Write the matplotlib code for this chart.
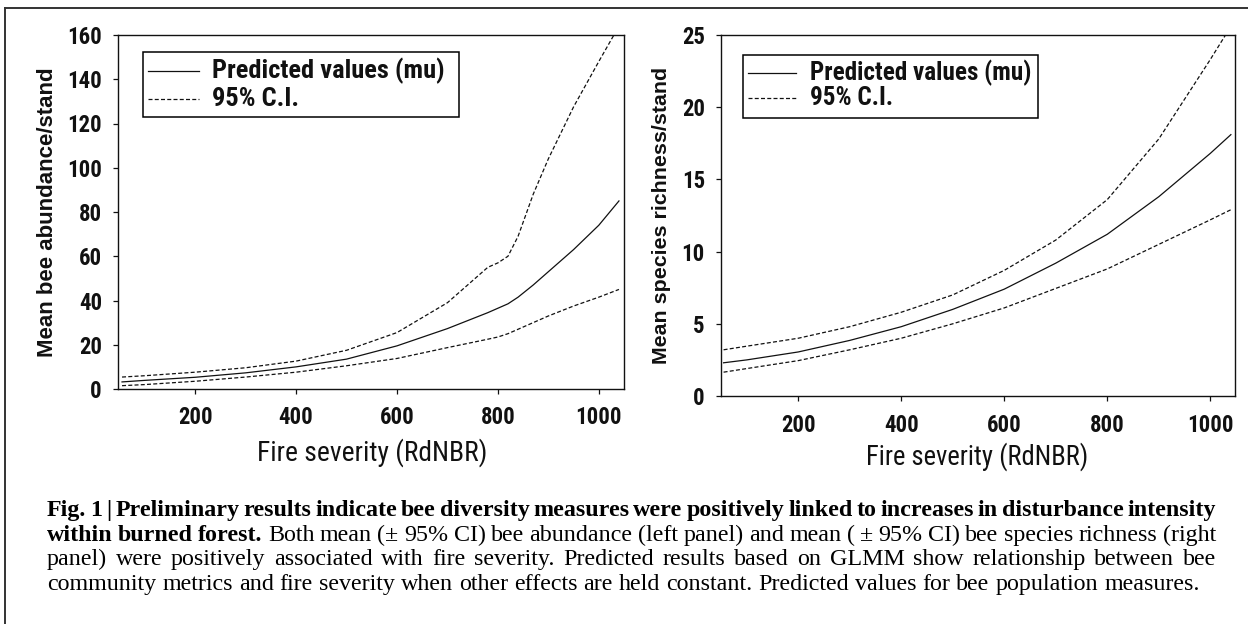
import matplotlib
matplotlib.use('Agg')
import matplotlib.pyplot as plt
from matplotlib.lines import Line2D
from matplotlib.patches import Rectangle
from matplotlib import font_manager as fm

# ---------------- data ----------------
fire_x_abund = [55, 100, 200, 300, 400, 500, 600, 700, 780, 800, 820, 840, 870, 900, 950, 1000, 1040]
abund_mu = [3.2, 3.9, 5.3, 7.3, 10.0, 13.5, 19.5, 27.3, 34.5, 36.5, 38.5, 41.5, 47, 53, 63, 74, 85]
abund_hi = [5.4, 6.0, 7.6, 9.6, 12.6, 17.5, 25.5, 39, 55, 57, 60, 69, 88, 104, 127.5, 148, 164]
abund_lo = [1.5, 2.0, 3.5, 5.4, 7.6, 10.5, 13.8, 18.7, 22.5, 23.5, 25, 27, 30, 33, 37.5, 41.5, 45]

fire_x_rich = [55, 100, 200, 300, 400, 500, 600, 700, 800, 900, 1000, 1040]
rich_mu = [2.3, 2.5, 3.05, 3.85, 4.8, 6.0, 7.4, 9.2, 11.2, 13.8, 16.8, 18.1]
rich_hi = [3.2, 3.45, 4.0, 4.8, 5.8, 7.0, 8.7, 10.8, 13.6, 17.8, 23.3, 25.6]
rich_lo = [1.65, 1.9, 2.45, 3.2, 4.0, 5.0, 6.1, 7.45, 8.8, 10.5, 12.2, 12.9]

x_ticks = [200, 400, 600, 800, 1000]
abund_yticks = [0, 20, 40, 60, 80, 100, 120, 140, 160]
rich_yticks = [0, 5, 10, 15, 20, 25]

x_label = "Fire severity (RdNBR)"
abund_ylabel = "Mean bee abundance/stand"
rich_ylabel = "Mean species richness/stand"
legend_labels = ["Predicted values (mu)", "95% C.I."]

caption_lines = [
    [("Fig. 1 | Preliminary results indicate bee diversity measures were positively linked to increases in disturbance intensity", True)],
    [("within burned forest.", True),
     ("Both mean (\u00b1 95% CI) bee abundance (left panel) and mean ( \u00b1 95% CI) bee species richness (right", False)],
    [("panel) were positively associated with fire severity. Predicted results based on GLMM show relationship between bee", False)],
    [("community metrics and fire severity when other effects are held constant. Predicted values for bee population measures.", False)],
]

# ---------------- fonts ----------------
_ttf = fm.fontManager.ttflist
_names = {f.name for f in _ttf}
NARROW_STRETCH = 'normal'
NARROW = None
for cand in ['Liberation Sans Narrow', 'Arial Narrow', 'Roboto Condensed', 'Open Sans Condensed']:
    if cand in _names:
        NARROW = [cand, 'DejaVu Sans']
        break
if NARROW is None:
    if any(f.name == 'DejaVu Sans' and f.stretch in ('condensed', 'semi-condensed') for f in _ttf):
        NARROW = ['DejaVu Sans']
        NARROW_STRETCH = 'condensed'
    else:
        NARROW = ['Liberation Sans', 'DejaVu Sans']
SANS = ['Liberation Sans', 'DejaVu Sans']
SERIF = ['Liberation Serif', 'DejaVu Serif']
INK = '#111111'

# ---------------- layout ----------------
W, H = 1248, 624
fig = plt.figure(figsize=(W / 100, H / 100), dpi=100)
fig.patch.set_facecolor('white')
r = fig.canvas.get_renderer()


def fpos(x, y):
    return x / W, 1 - y / H


def text_w(text, family, weight, size, stretch='normal'):
    t = fig.text(0, 0, text, family=family, weight=weight, fontsize=size, fontstretch=stretch)
    w = t.get_window_extent(r).width
    t.remove()
    return w


def fit_size(text, family, weight, target, stretch='normal', base=20.0):
    return base * target / text_w(text, family, weight, base, stretch)


# outer frame (top and left edges visible)
fig.add_artist(Line2D([5 / W, 5 / W], [1 - 8 / H, 0], transform=fig.transFigure, color='#333333', lw=1.4))
fig.add_artist(Line2D([5 / W, 1], [1 - 8 / H, 1 - 8 / H], transform=fig.transFigure, color='#333333', lw=1.4))

axL = fig.add_axes([118 / W, 1 - 389 / H, (624 - 118) / W, (389 - 35) / H])
axR = fig.add_axes([721 / W, 1 - 396 / H, (1235 - 721) / W, (396 - 35) / H])

XLAB_WEIGHT = 'normal'
tick_size = fit_size("1000", NARROW, 'bold', 46, NARROW_STRETCH)
xlabL_size = fit_size(x_label, NARROW, XLAB_WEIGHT, 230, NARROW_STRETCH)
xlabR_size = fit_size(x_label, NARROW, XLAB_WEIGHT, 222, NARROW_STRETCH)
ylabL_size = fit_size(abund_ylabel, SANS, 'bold', 290)
ylabR_size = fit_size(rich_ylabel, SANS, 'bold', 296)

dash = (0, (3.2, 1.8))
panels = [
    (axL, fire_x_abund, abund_mu, abund_lo, abund_hi, (47, 1050), (0, 160), abund_yticks,
     abund_ylabel, ylabL_size, (-0.140, 0.500), xlabL_size, (0.502, -0.181)),
    (axR, fire_x_rich, rich_mu, rich_lo, rich_hi, (50, 1048), (0, 25), rich_yticks,
     rich_ylabel, ylabR_size, (-0.115, 0.501), xlabR_size, (0.498, -0.169)),
]
for ax, x, mu, lo, hi, xlim, ylim, yt, ylab, ysz, ylc, xsz, xlc in panels:
    ax.plot(x, mu, color=INK, lw=0.9)
    ax.plot(x, hi, color=INK, lw=0.9, ls=dash)
    ax.plot(x, lo, color=INK, lw=0.9, ls=dash)
    ax.set_xlim(*xlim)
    ax.set_ylim(*ylim)
    ax.set_xticks(x_ticks)
    ax.set_xticklabels([str(v) for v in x_ticks])
    ax.set_yticks(yt)
    ax.set_yticklabels([str(v) for v in yt])
    ax.tick_params(axis='both', direction='out', length=3.6, width=0.9, color=INK)
    ax.tick_params(axis='y', pad=8.0)
    ax.tick_params(axis='x', pad=9.0)
    for lbl in ax.get_xticklabels() + ax.get_yticklabels():
        lbl.set_family(NARROW)
        lbl.set_stretch(NARROW_STRETCH)
        lbl.set_weight('bold')
        lbl.set_fontsize(tick_size)
        lbl.set_color(INK)
    for s in ax.spines.values():
        s.set_linewidth(1.0)
        s.set_color(INK)
    ax.set_xlabel(x_label, family=NARROW, fontstretch=NARROW_STRETCH, weight=XLAB_WEIGHT,
                  fontsize=xsz, color='#111111')
    ax.xaxis.label.set_va('center')
    ax.xaxis.set_label_coords(*xlc)
    ax.set_ylabel(ylab, family=SANS, weight='bold', fontsize=ysz, color=INK)
    ax.yaxis.label.set_va('center')
    ax.yaxis.set_label_coords(*ylc)

# ---------------- legends (drawn by hand to match the box geometry) ----------------
legends = [
    ((143, 52, 459, 117), (148, 199), 212, (71, 99), 232),
    ((743, 55, 1038, 118), (748, 796), 810, (73, 98), 221),
]
for (x0, y0, x1, y1), (hx0, hx1), tx, rows, tw in legends:
    lsz = fit_size(legend_labels[0], NARROW, 'bold', tw, NARROW_STRETCH)
    fig.add_artist(Rectangle(fpos(x0, y1), (x1 - x0) / W, (y1 - y0) / H, transform=fig.transFigure,
                             fill=False, ec='black', lw=1.1))
    for i, (lab, ry) in enumerate(zip(legend_labels, rows)):
        ls = '-' if i == 0 else dash
        fig.add_artist(Line2D([hx0 / W, hx1 / W], [1 - ry / H, 1 - ry / H], transform=fig.transFigure,
                              color=INK, lw=0.9, ls=ls))
        fig.text(tx / W, 1 - ry / H, lab, family=NARROW, fontstretch=NARROW_STRETCH, weight='bold',
                 fontsize=lsz, va='center', ha='left', color=INK)

# ---------------- caption ----------------
cap_x0, cap_x1 = 47, 1216
last_line = caption_lines[3][0][0]
cap_size = fit_size(last_line, SERIF, 'normal', 1150)
baselines = [516, 541, 565, 590]
for li, (segs, yb) in enumerate(zip(caption_lines, baselines)):
    words = []
    for txt, bold in segs:
        for wd in txt.split(' '):
            if wd:
                words.append((wd, 'bold' if bold else 'normal'))
    widths = [text_w(wd, SERIF, wt, cap_size) for wd, wt in words]
    if li < 3:
        gap = (cap_x1 - cap_x0 - sum(widths)) / (len(words) - 1)
    else:
        gap = text_w("a b", SERIF, 'normal', cap_size) - text_w("ab", SERIF, 'normal', cap_size)
    xc = cap_x0
    for (wd, wt), w in zip(words, widths):
        fig.text(xc / W, 1 - yb / H, wd, family=SERIF, weight=wt, fontsize=cap_size,
                 va='baseline', ha='left', color='black')
        xc += w + gap

fig.savefig('out.png', dpi=100)
